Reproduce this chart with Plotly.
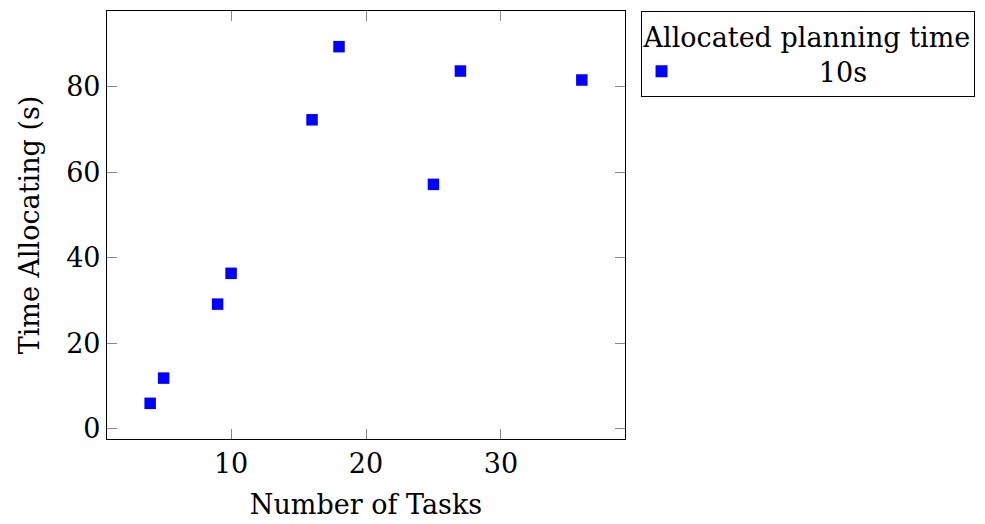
import plotly.graph_objects as go

# Data
num_tasks = [4, 5, 9, 10, 16, 18, 25, 27, 36]
time_allocating = [6.0, 11.9, 29.2, 36.4, 72.3, 89.4, 57.2, 83.7, 81.6]
series_name = "10s"
legend_title = "Allocated planning time"
x_label = "Number of Tasks"
y_label = "Time Allocating (s)"
x_ticks = [10, 20, 30]
y_ticks = [0, 20, 40, 60, 80]

FONT = "DejaVu Serif, Liberation Serif, serif"
FS = 27

def enlarged(vals, f=0.1):
    lo, hi = min(vals), max(vals)
    d = (hi - lo) * f
    return [lo - d, hi + d]

fig = go.Figure()
fig.add_trace(go.Scatter(
    x=num_tasks, y=time_allocating, mode="markers",
    name="\u00a0" * 16 + series_name,
    marker=dict(symbol="square", size=11.5, color="#0000ff", line=dict(width=0)),
))

axis_common = dict(
    showline=True, linecolor="black", linewidth=1.2, mirror="allticks",
    ticks="inside", ticklen=10, tickwidth=1, tickcolor="#888888",
    showgrid=False, zeroline=False,
    tickfont=dict(family=FONT, size=FS, color="black"),
)

fig.update_layout(
    width=985, height=524,
    margin=dict(l=107, r=360, t=10, b=84),
    paper_bgcolor="white", plot_bgcolor="white",
    font=dict(family=FONT, size=FS, color="black"),
    xaxis=dict(range=enlarged(num_tasks), tickvals=x_ticks,
               title=dict(text=x_label, font=dict(family=FONT, size=FS), standoff=17),
               **axis_common),
    yaxis=dict(range=enlarged(time_allocating), tickvals=y_ticks,
               title=dict(text=y_label, font=dict(family=FONT, size=FS), standoff=18),
               **axis_common),
    showlegend=True,
    legend=dict(
        x=1.03, y=1.0, xanchor="left", yanchor="top",
        bordercolor="black", borderwidth=1, bgcolor="white",
        title=dict(text=legend_title, font=dict(family=FONT, size=FS)),
        font=dict(family=FONT, size=FS),
        itemsizing="constant",
    ),
)

fig.write_html("out.html")
